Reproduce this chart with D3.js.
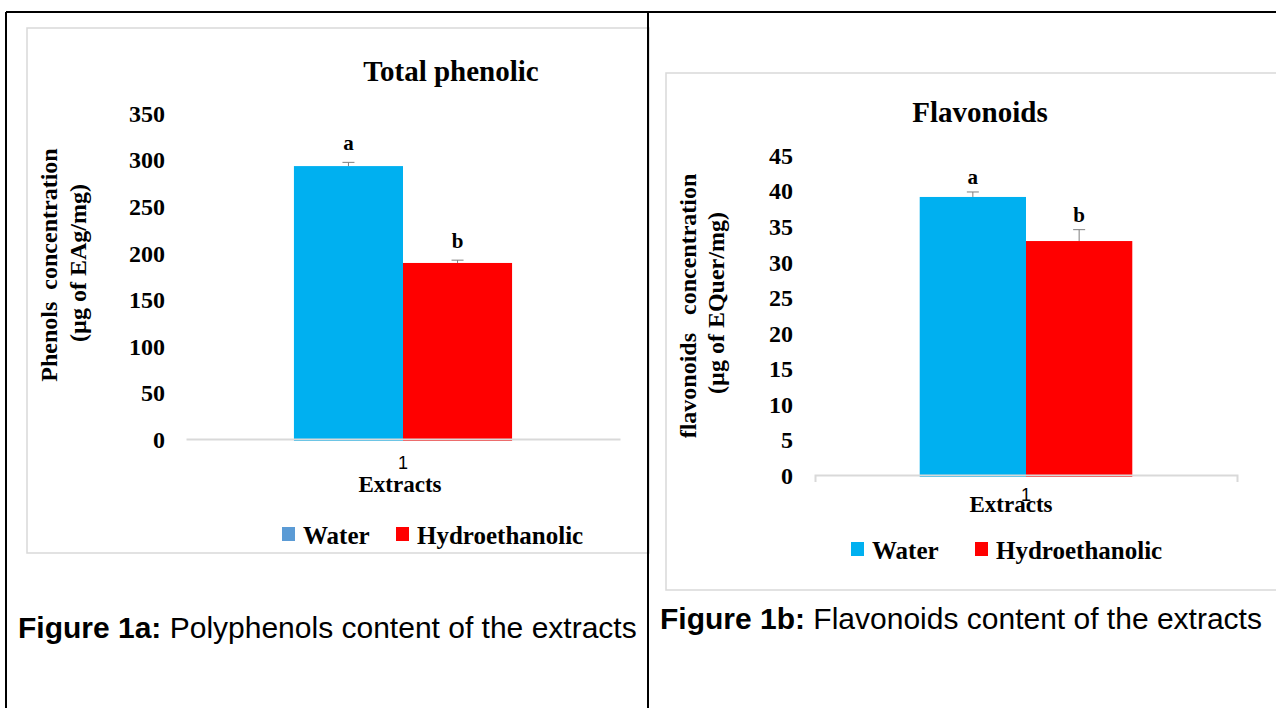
<!DOCTYPE html>
<html>
<head>
<meta charset="utf-8">
<script src="https://cdn.jsdelivr.net/npm/d3@7"></script>
<style>
  body { margin: 0; background: #fff; }
  svg text { font-family: "Liberation Serif", "Times New Roman", serif; font-weight: bold; fill: #000; }
  .caption { font-family: "Liberation Sans", Arial, sans-serif; font-weight: normal; font-size: 30px; }
</style>
</head>
<body>
<div id="chart"></div>
<script>
// data
var categories = ["1"];
var seriesNames = ["Water", "Hydroethanolic"];
var phenolValues = [293, 189];
var phenolErrors = [4, 3];
var phenolLetters = ["a", "b"];
var phenolTicks = [0, 50, 100, 150, 200, 250, 300, 350];
var flavValues = [39.1, 32.9];
var flavErrors = [0.7, 1.6];
var flavLetters = ["a", "b"];
var flavTicks = [0, 5, 10, 15, 20, 25, 30, 35, 40, 45];
var barColors = ["#00B0F0", "#FF0000"];

var svg = d3.select("#chart")
            .append("svg")
            .attr("width", 1276)
            .attr("height", 708);

//table borders
svg.append("line").attr("x1", 6).attr("x2", 1276).attr("y1", 12).attr("y2", 12)
   .style("stroke", "#000").style("stroke-width", 2);
svg.append("line").attr("x1", 6).attr("x2", 6).attr("y1", 12).attr("y2", 708)
   .style("stroke", "#000").style("stroke-width", 2);

function drawPanel(p) {
  //chart frame
  svg.append("rect")
     .attr("x", p.frame[0]).attr("y", p.frame[1])
     .attr("width", p.frame[2]).attr("height", p.frame[3])
     .attr("fill", "#fff")
     .style("stroke", "#D9D9D9").style("stroke-width", 1.5);

  //title
  svg.append("text")
     .attr("x", p.titleX).attr("y", p.titleY)
     .attr("text-anchor", "middle")
     .style("font-size", "29px")
     .text(p.title);

  var y = d3.scaleLinear().domain([0, p.ticks[p.ticks.length - 1]]).range(p.yRange);
  var x0 = d3.scaleBand().domain(categories).range(p.xRange).padding(p.pad);
  var x1 = d3.scaleBand().domain(seriesNames).range([0, x0.bandwidth()]);

  //y tick labels
  var yAxis = svg.append("g")
     .attr("transform", "translate(" + p.yLabelX + ",0)")
     .call(d3.axisLeft(y).tickValues(p.ticks).tickSize(0).tickPadding(0));
  yAxis.select(".domain").remove();
  yAxis.selectAll("text")
       .style("font-family", "Liberation Serif")
       .style("font-weight", "bold")
       .style("font-size", "24px")
       .attr("dy", "0.35em")
       .attr("fill", "#000");

  //bars
  var bars = svg.append("g");
  categories.forEach(function (c) {
    bars.selectAll("rect.b" + c)
        .data(p.values)
        .enter()
        .append("rect")
        .attr("x", function (d, i) { return x0(c) + x1(seriesNames[i]); })
        .attr("y", function (d) { return y(d); })
        .attr("width", x1.bandwidth())
        .attr("height", function (d) { return y(0) - y(d) + 2; })
        .attr("fill", function (d, i) { return barColors[i]; });

    //error bars
    p.values.forEach(function (v, i) {
      var cx = x0(c) + x1(seriesNames[i]) + x1.bandwidth() / 2;
      svg.append("line").attr("x1", cx).attr("x2", cx)
         .attr("y1", y(v)).attr("y2", y(v + p.errors[i]))
         .style("stroke", "#7F7F7F").style("stroke-width", 1);
      svg.append("line").attr("x1", cx - 6).attr("x2", cx + 6)
         .attr("y1", y(v + p.errors[i])).attr("y2", y(v + p.errors[i]))
         .style("stroke", "#7F7F7F").style("stroke-width", 1);
      svg.append("text")
         .attr("x", cx).attr("y", y(v + p.errors[i]) - p.letterGap)
         .attr("text-anchor", "middle")
         .style("font-size", "21px")
         .text(p.letters[i]);
    });
  });

  //x axis
  var xAxis = svg.append("g")
     .attr("transform", "translate(0," + y(0) + ")")
     .call(d3.axisBottom(x0).tickSizeInner(0).tickSizeOuter(p.outerTick).tickPadding(p.catPad));
  xAxis.selectAll("path, line").style("stroke", "#D9D9D9").style("stroke-width", 2);
  xAxis.selectAll("text")
       .style("font-family", "Liberation Sans")
       .style("font-weight", "normal")
       .style("font-size", "18px")
       .attr("fill", "#595959");

  svg.append("text")
     .attr("x", p.extractsX).attr("y", p.extractsY)
     .attr("text-anchor", "middle")
     .style("font-size", "23px")
     .text("Extracts");

  //y axis title
  svg.append("text")
     .attr("transform", "translate(" + p.yTitleX[0] + "," + p.yTitleY[0] + ") rotate(-90)")
     .attr("text-anchor", "middle")
     .style("font-size", "24px")
     .style("white-space", "pre")
     .text(p.yTitle[0]);
  svg.append("text")
     .attr("transform", "translate(" + p.yTitleX[1] + "," + p.yTitleY[1] + ") rotate(-90)")
     .attr("text-anchor", "middle")
     .style("font-size", "24px")
     .text(p.yTitle[1]);

  //legend
  seriesNames.forEach(function (s, i) {
    svg.append("rect")
       .attr("x", p.legendX[i]).attr("y", p.legendY - 17)
       .attr("width", 13).attr("height", 14)
       .attr("fill", p.legendColors[i]);
    svg.append("text")
       .attr("x", p.legendX[i] + 21).attr("y", p.legendY)
       .style("font-size", "25px")
       .text(s);
  });

  //caption
  var cap = svg.append("text")
     .attr("class", "caption")
     .attr("x", p.captionX).attr("y", p.captionY);
  cap.append("tspan").style("font-weight", "bold").text(p.caption[0]);
  cap.append("tspan").style("font-weight", "normal").text(p.caption[1]);
}

drawPanel({
  frame: [27, 28, 622, 525],
  title: "Total phenolic", titleX: 451, titleY: 81,
  ticks: phenolTicks, values: phenolValues, errors: phenolErrors, letters: phenolLetters,
  yRange: [439, 113], xRange: [186, 620], pad: 0.331,
  yLabelX: 165, letterGap: 12, outerTick: 0, catPad: 17,
  extractsX: 400, extractsY: 492,
  yTitle: ["Phenols  concentration", "(\u00b5g of EAg/mg)"],
  yTitleX: [57, 86], yTitleY: [265, 263],
  legendX: [282, 396], legendY: 544, legendColors: ["#5B9BD5", "#FF0000"],
  caption: ["Figure 1a:", " Polyphenols content of the extracts"], captionX: 18, captionY: 638
});

drawPanel({
  frame: [666, 73, 620, 517],
  title: "Flavonoids", titleX: 980, titleY: 122,
  ticks: flavTicks, values: flavValues, errors: flavErrors, letters: flavLetters,
  yRange: [475, 155], xRange: [815, 1237], pad: 0.33,
  yLabelX: 793, letterGap: 8, outerTick: 7, catPad: 13,
  extractsX: 1011, extractsY: 512,
  yTitle: ["flavonoids   concentration", "(\u00b5g of EQuer/mg)"],
  yTitleX: [696, 724], yTitleY: [306, 303],
  legendX: [851, 975], legendY: 559, legendColors: ["#00B0F0", "#FF0000"],
  caption: ["Figure 1b:", " Flavonoids content of the extracts"], captionX: 660, captionY: 629
});

//middle divider on top
svg.append("line").attr("x1", 648).attr("x2", 648).attr("y1", 12).attr("y2", 708)
   .style("stroke", "#000").style("stroke-width", 2);
</script>
</body>
</html>
